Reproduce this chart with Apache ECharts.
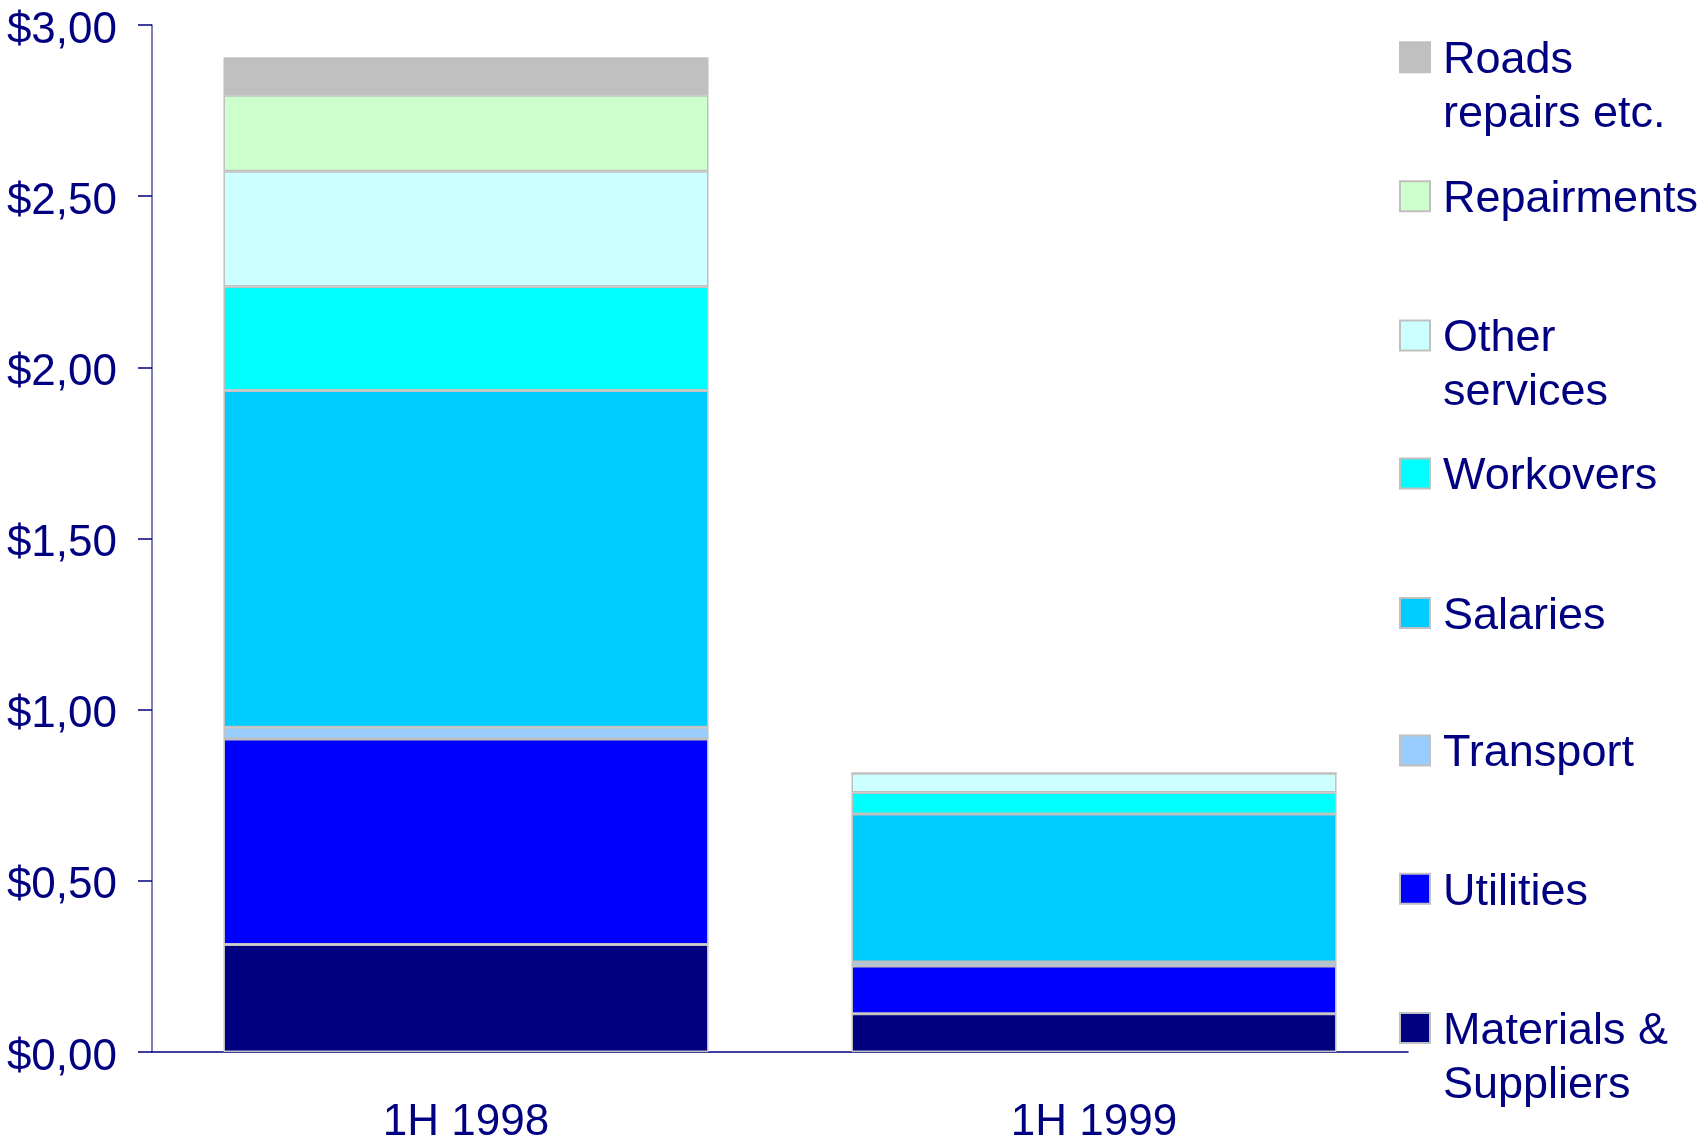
<!DOCTYPE html>
<html>
<head>
<meta charset="utf-8">
<title>Operating costs per barrel, 1H 1998 vs 1H 1999</title>
<script src="https://cdn.jsdelivr.net/npm/echarts@6/dist/echarts.min.js"></script>
<style>
  html, body { margin: 0; padding: 0; background: #ffffff; }
  #chart { width: 1704px; height: 1145px; }
</style>
</head>
<body>
<div id="chart"></div>
<script>
// Periods on the category axis
const periods = ['1H 1998', '1H 1999'];

// Cost components, stacked bottom to top ($ per unit)
const materials   = [0.314, 0.112];
const utilities   = [0.600, 0.139];
const transport   = [0.035, 0.012];
const salaries    = [0.983, 0.432];
const workovers   = [0.304, 0.063];
const otherSvc    = [0.337, 0.056];
const repairments = [0.222, 0];
const roads       = [0.111, 0];

// Value axis ticks
const yTicks = [0, 0.5, 1, 1.5, 2, 2.5, 3];

const NAVY = '#000080';
const FONT = '"Liberation Sans", Arial, sans-serif';

// Legend text lines per entry; wrapped entries get a blank leading line
// so the swatch lines up with the first line of text
const seriesDefs = [
  { name: 'Materials & Suppliers', data: materials,   color: '#000080', lines: ['Materials &', 'Suppliers'], legendTop: 947.1 },
  { name: 'Utilities',             data: utilities,   color: '#0000FF', lines: ['Utilities'],                legendTop: 861.8 },
  { name: 'Transport',             data: transport,   color: '#99CCFF', lines: ['Transport'],                legendTop: 723.4 },
  { name: 'Salaries',              data: salaries,    color: '#00CCFF', lines: ['Salaries'],                 legendTop: 586 },
  { name: 'Workovers',             data: workovers,   color: '#00FFFF', lines: ['Workovers'],                legendTop: 446.4 },
  { name: 'Other services',        data: otherSvc,    color: '#CCFFFF', lines: ['Other', 'services'],        legendTop: 254.4 },
  { name: 'Repairments',           data: repairments, color: '#CCFFCC', lines: ['Repairments'],              legendTop: 169.2 },
  { name: 'Roads repairs etc.',    data: roads,       color: '#C0C0C0', lines: ['Roads', 'repairs etc.'],    legendTop: -23.8 }
];

const series = seriesDefs.map(d => ({
  name: d.name,
  type: 'bar',
  stack: 'costs',
  barWidth: 485,
  data: d.data,
  itemStyle: { color: d.color, borderColor: '#C0C0C0', borderWidth: 1.5 },
  emphasis: { disabled: true }
}));

const legendToken = {
  color: NAVY,
  fontFamily: FONT,
  fontSize: 45,
  lineHeight: 54,
  padding: [7, 0, 0, 0]
};

function legendLabel(lines) {
  const body = lines.map(s => '{t|' + s + '}');
  if (lines.length > 1) body.unshift('{t| }');
  return body.join('\n');
}

// One legend block per entry so each sits at its own height
const legends = seriesDefs.map(d => ({
  data: [d.name],
  left: 1399,
  top: d.legendTop,
  padding: 0,
  orient: 'vertical',
  itemWidth: 30,
  itemHeight: 30,
  selectedMode: false,
  icon: 'rect',
  formatter: () => legendLabel(d.lines),
  textStyle: {
    color: NAVY,
    fontFamily: FONT,
    fontSize: 45,
    lineHeight: 54,
    padding: [0, 0, 0, 8],
    rich: { t: legendToken }
  }
}));

const chart = echarts.init(document.getElementById('chart'), null, { renderer: 'canvas' });
chart.setOption({
  backgroundColor: '#ffffff',
  animation: false,
  grid: { left: 152, right: 296, top: 25, bottom: 90, containLabel: false },
  legend: legends,
  xAxis: {
    type: 'category',
    data: periods,
    axisLine: { show: true, lineStyle: { color: NAVY, width: 1.5 } },
    axisTick: { show: false },
    axisLabel: { color: NAVY, fontFamily: FONT, fontSize: 44, margin: 49 },
    splitLine: { show: false }
  },
  yAxis: {
    type: 'value',
    min: yTicks[0],
    max: yTicks[yTicks.length - 1],
    interval: 0.5,
    axisLine: { show: true, lineStyle: { color: '#5555A0', width: 1.5 } },
    axisTick: { show: true, inside: false, length: 14, lineStyle: { color: NAVY, width: 1.5 } },
    axisLabel: {
      color: NAVY,
      fontFamily: FONT,
      fontSize: 44,
      margin: 35,
      formatter: v => '{v|$' + v.toFixed(2).replace('.', ',') + '}',
      rich: {
        v: { color: NAVY, fontFamily: FONT, fontSize: 44, padding: [11, 0, 0, 0] }
      }
    },
    splitLine: { show: false }
  },
  series: series
});
</script>
</body>
</html>
